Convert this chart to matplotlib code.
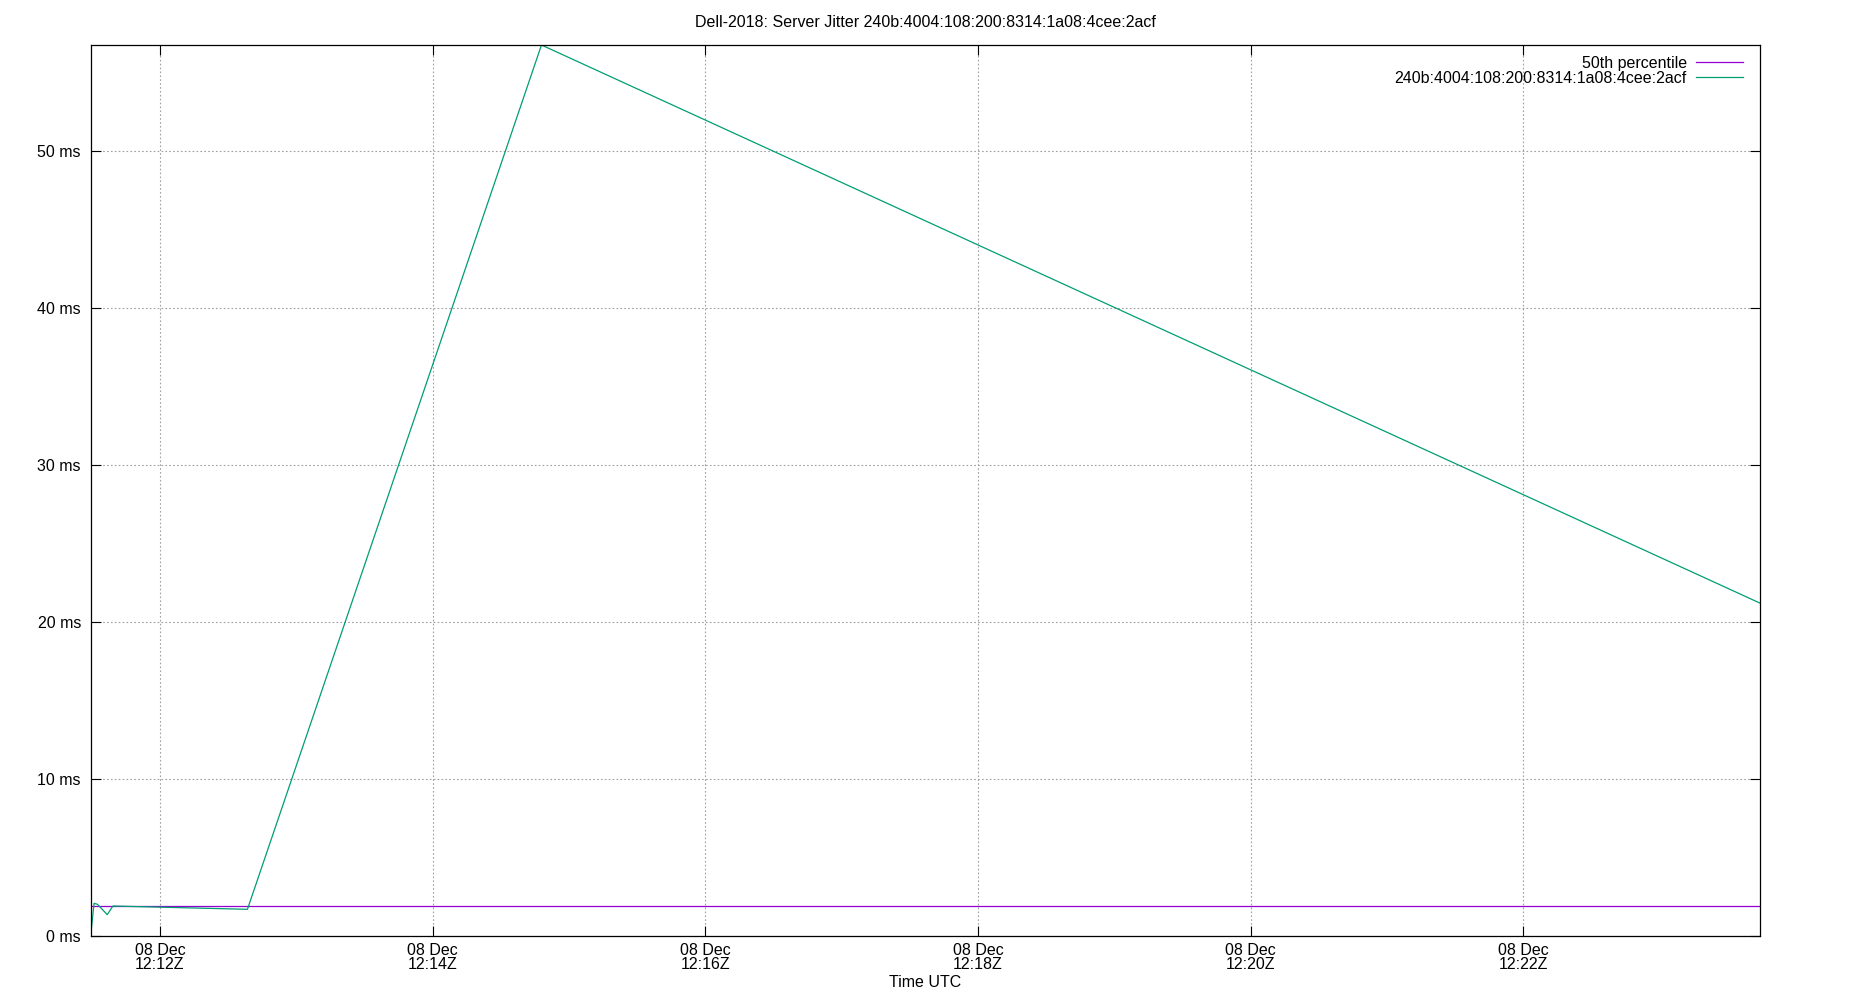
import matplotlib
matplotlib.use("Agg")
import matplotlib.pyplot as plt
import matplotlib.dates as mdates
from matplotlib.ticker import FuncFormatter
import pandas as pd

# ---- data ----
title = "Dell-2018: Server Jitter 240b:4004:108:200:8314:1a08:4cee:2acf"
series_name = "240b:4004:108:200:8314:1a08:4cee:2acf"
jitter_times = ["2018-12-08 12:11:29.5", "2018-12-08 12:11:31.0", "2018-12-08 12:11:32.5",
                "2018-12-08 12:11:36.8", "2018-12-08 12:11:39.3", "2018-12-08 12:12:38.5",
                "2018-12-08 12:14:47.9", "2018-12-08 12:23:44.2"]
jitter_ms = [0.0, 2.08, 2.02, 1.36, 1.91, 1.70, 56.75, 21.2]
p50_times = ["2018-12-08 12:11:29.5", "2018-12-08 12:23:44.2"]
p50_ms = [1.89, 1.89]
y_ticks = [0, 10, 20, 30, 40, 50]

plt.rcParams["font.family"] = ["Liberation Sans", "DejaVu Sans"]
plt.rcParams["font.size"] = 11.5

jt = pd.to_datetime(jitter_times)
pt = pd.to_datetime(p50_times)

fig = plt.figure(figsize=(18.5, 10), dpi=100)
ax = fig.add_axes([0.049, 0.064, 0.9024, 0.891])

ax.plot(pt, p50_ms, color="#9400d3", lw=0.9, label="50th percentile")
ax.plot(jt, jitter_ms, color="#009e73", lw=0.9, label=series_name)

ax.set_xlim(jt[0], jt[-1])
ax.set_ylim(0, max(jitter_ms))
ax.set_yticks(y_ticks)
ax.yaxis.set_major_formatter(FuncFormatter(lambda v, p: f"{v:g} ms"))
ax.xaxis.set_major_locator(mdates.MinuteLocator(byminute=range(0, 60, 2)))
ax.xaxis.set_major_formatter(mdates.DateFormatter("%d %b\n%H:%MZ"))
for lbl in ax.get_xticklabels():
    lbl.set_linespacing(0.9)

ax.tick_params(direction="in", length=7, width=0.8, top=True, right=True,
               labeltop=False, labelright=False, pad=7)
ax.tick_params(axis="x", pad=5)
ax.grid(True, color="#a0a0a0", lw=0.8, linestyle=(0, (1.5, 2)))
for s in ax.spines.values():
    s.set_linewidth(0.9)

ax.set_title(title, fontsize=11.5, pad=13)
ax.set_xlabel("Time UTC", fontsize=11.5, labelpad=2)

ax.legend(loc="upper right", bbox_to_anchor=(0.9943, 0.997), markerfirst=False,
          frameon=False, handlelength=2.9, handletextpad=0.6, labelspacing=0.0,
          borderaxespad=0.3, borderpad=0.2)

fig.savefig("out.png", dpi=100)
